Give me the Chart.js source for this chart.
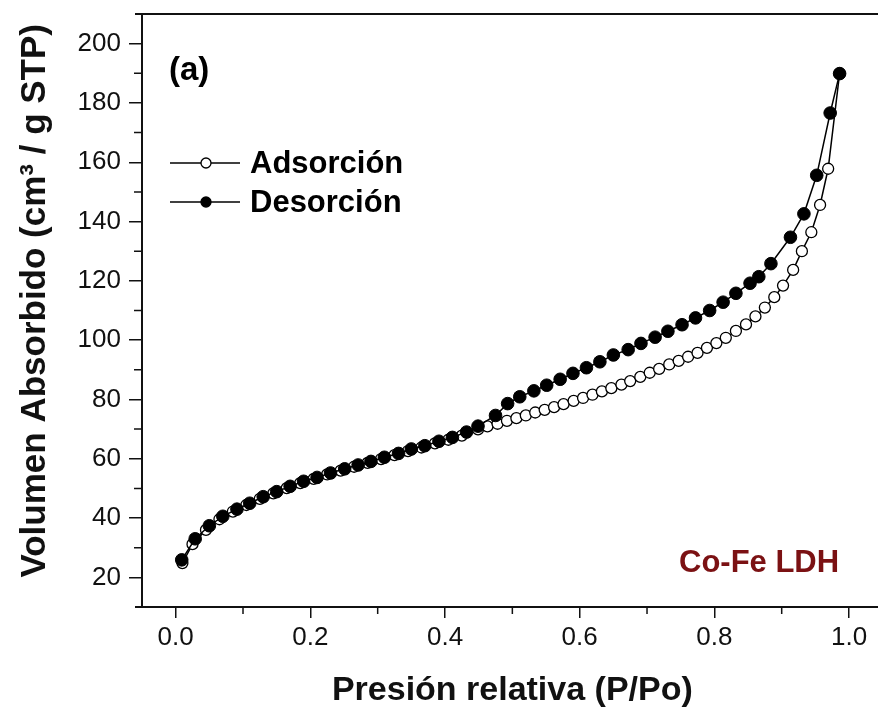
<!DOCTYPE html>
<html>
<head>
    <title>Isoterma Co-Fe LDH</title>
    <script src="https://cdn.jsdelivr.net/npm/chart.js@4.4.0/dist/chart.umd.min.js"></script>
    <style>
        body { margin: 0; overflow: hidden; background: #fff; }
    </style>
</head>
<body>
    <canvas id="myChart" width="890" height="708"></canvas>

    <script>
        // adsorcion (circulos abiertos)
        var adsX = [0.010, 0.025, 0.045, 0.065, 0.085, 0.105, 0.125, 0.145, 0.165, 0.185,
                    0.205, 0.225, 0.245, 0.265, 0.285, 0.305, 0.325, 0.345, 0.365, 0.385,
                    0.405, 0.425, 0.449, 0.463, 0.478, 0.492, 0.506, 0.520, 0.534, 0.548,
                    0.562, 0.576, 0.591, 0.605, 0.619, 0.633, 0.647, 0.662, 0.675, 0.690,
                    0.704, 0.718, 0.733, 0.747, 0.761, 0.775, 0.789, 0.803, 0.817, 0.832,
                    0.847, 0.861, 0.875, 0.889, 0.902, 0.917, 0.930, 0.944, 0.957, 0.969, 0.986];
        var adsY = [24.8, 31.2, 36.0, 39.6, 42.2, 44.4, 46.5, 48.3, 50.1, 51.8,
                    53.2, 54.7, 56.0, 57.3, 58.6, 59.9, 61.2, 62.6, 63.8, 65.2,
                    66.4, 67.8, 69.9, 70.9, 71.8, 72.8, 73.7, 74.6, 75.6, 76.5,
                    77.4, 78.4, 79.5, 80.5, 81.6, 82.7, 83.8, 85.0, 86.2, 87.6,
                    89.0, 90.3, 91.8, 93.0, 94.4, 95.7, 97.4, 99.0, 100.8, 103.1,
                    105.3, 108.0, 111.0, 114.5, 118.4, 123.7, 130.0, 136.4, 145.6, 157.8, 190.0];

        // desorcion (circulos llenos)
        var desX = [0.009, 0.029, 0.050, 0.070, 0.091, 0.110, 0.130, 0.150, 0.170, 0.190,
                    0.210, 0.230, 0.251, 0.271, 0.290, 0.310, 0.331, 0.350, 0.370, 0.391,
                    0.411, 0.432, 0.449, 0.475, 0.493, 0.511, 0.532, 0.551, 0.571, 0.590,
                    0.610, 0.630, 0.650, 0.672, 0.691, 0.712, 0.731, 0.752, 0.772, 0.793,
                    0.813, 0.832, 0.853, 0.866, 0.884, 0.913, 0.933, 0.952, 0.972, 0.986];
        var desY = [25.9, 33.0, 37.4, 40.6, 43.0, 45.0, 47.2, 48.9, 50.7, 52.4,
                    53.7, 55.2, 56.6, 57.9, 59.1, 60.5, 61.8, 63.3, 64.4, 65.9,
                    67.2, 69.0, 71.0, 74.6, 78.6, 80.9, 82.9, 84.8, 86.8, 88.8,
                    90.7, 92.7, 95.0, 96.8, 98.9, 101.0, 103.0, 105.2, 107.5, 110.0,
                    112.8, 115.8, 119.2, 121.4, 125.8, 134.7, 142.6, 155.6, 176.6, 189.9];

        var xTicks = [0.0, 0.2, 0.4, 0.6, 0.8, 1.0];
        var xMinor = [0.1, 0.3, 0.5, 0.7, 0.9];
        var yTicks = [20, 40, 60, 80, 100, 120, 140, 160, 180, 200];
        var yMinor = [30, 50, 70, 90, 110, 130, 150, 170, 190];

        var fontName = "'Liberation Sans', Arial, sans-serif";

        function toPoints(xs, ys) {
            return xs.map(function (x, i) { return { x: x, y: ys[i] }; });
        }

        // ticks menores, marco superior, leyenda y textos
        var extras = {
            id: 'extras',
            afterDraw: function (chart) {
                var ctx = chart.ctx;
                var area = chart.chartArea;
                var x = chart.scales.x;
                var y = chart.scales.y;

                ctx.save();
                ctx.strokeStyle = '#111';
                ctx.lineWidth = 1.5;
                ctx.beginPath();
                yMinor.forEach(function (v) {
                    var py = y.getPixelForValue(v);
                    ctx.moveTo(area.left - 8, py);
                    ctx.lineTo(area.left, py);
                });
                xMinor.forEach(function (v) {
                    var px = x.getPixelForValue(v);
                    ctx.moveTo(px, area.bottom);
                    ctx.lineTo(px, area.bottom + 7);
                });
                ctx.stroke();

                ctx.lineWidth = 2;
                ctx.beginPath();
                ctx.moveTo(area.left - 7, area.top);
                ctx.lineTo(area.right, area.top);
                ctx.moveTo(area.left - 7, area.bottom);
                ctx.lineTo(area.left, area.bottom);
                ctx.stroke();

                // leyenda
                var rows = [
                    { ds: chart.data.datasets[0], y: 163 },
                    { ds: chart.data.datasets[1], y: 202 }
                ];
                rows.forEach(function (r) {
                    ctx.strokeStyle = '#000';
                    ctx.lineWidth = 1.3;
                    ctx.beginPath();
                    ctx.moveTo(170, r.y);
                    ctx.lineTo(240, r.y);
                    ctx.stroke();
                    ctx.beginPath();
                    ctx.arc(206, r.y, 5, 0, Math.PI * 2);
                    ctx.fillStyle = r.ds.pointBackgroundColor;
                    ctx.fill();
                    ctx.stroke();
                    ctx.fillStyle = '#000';
                    ctx.font = 'bold 31px ' + fontName;
                    ctx.textAlign = 'left';
                    ctx.textBaseline = 'middle';
                    ctx.fillText(r.ds.label, 250, r.y + 1);
                });

                ctx.font = 'bold 33px ' + fontName;
                ctx.fillText('(a)', 169, 71);

                ctx.fillStyle = '#7b1113';
                ctx.font = 'bold 31px ' + fontName;
                ctx.fillText('Co-Fe LDH', 679, 563);
                ctx.restore();
            }
        };

        var ctx = document.getElementById('myChart').getContext('2d');
        var chart = new Chart(ctx, {
            type: 'scatter',
            data: {
                datasets: [{
                    label: 'Adsorción',
                    data: toPoints(adsX, adsY),
                    showLine: true,
                    borderColor: '#000',
                    borderWidth: 1.5,
                    pointRadius: 5.5,
                    pointBackgroundColor: '#fff',
                    pointBorderColor: '#000',
                    pointBorderWidth: 1.3,
                    order: 1
                }, {
                    label: 'Desorción',
                    data: toPoints(desX, desY),
                    showLine: true,
                    borderColor: '#000',
                    borderWidth: 1.5,
                    pointRadius: 6.3,
                    pointBackgroundColor: '#000',
                    pointBorderColor: '#000',
                    pointBorderWidth: 1,
                    order: 0
                }]
            },
            options: {
                responsive: false,
                animation: false,
                devicePixelRatio: 1,
                layout: { padding: { top: 14, right: 0, left: 0, bottom: 0 } },
                plugins: {
                    legend: { display: false },
                    tooltip: { enabled: false }
                },
                scales: {
                    x: {
                        type: 'linear',
                        min: -0.05,
                        max: 1.05,
                        afterBuildTicks: function (s) {
                            s.ticks = xTicks.map(function (v) { return { value: v }; });
                        },
                        afterFit: function (s) {
                            s.height = 101;
                            s.paddingLeft = 0;
                            s.paddingRight = 0;
                        },
                        ticks: {
                            callback: function (v) { return v.toFixed(1); },
                            font: { family: fontName, size: 26 },
                            color: '#111',
                            padding: 4,
                            maxRotation: 0,
                            autoSkip: false
                        },
                        grid: {
                            drawOnChartArea: false,
                            tickLength: 11,
                            color: '#111',
                            lineWidth: 1.5
                        },
                        border: { color: '#111', width: 2 },
                        title: {
                            display: true,
                            text: 'Presión relativa (P/Po)',
                            color: '#111',
                            font: { family: fontName, size: 34, weight: 'bold', lineHeight: 1 },
                            padding: { top: 0, bottom: 0 }
                        }
                    },
                    y: {
                        min: 10,
                        max: 210,
                        afterBuildTicks: function (s) {
                            s.ticks = yTicks.map(function (v) { return { value: v }; });
                        },
                        afterFit: function (s) {
                            s.width = 142;
                            s.paddingTop = 0;
                            s.paddingBottom = 0;
                        },
                        ticks: {
                            callback: function (v) { return String(v); },
                            font: { family: fontName, size: 26 },
                            color: '#111',
                            padding: 8
                        },
                        grid: {
                            drawOnChartArea: false,
                            tickLength: 13,
                            color: '#111',
                            lineWidth: 1.5
                        },
                        border: { color: '#111', width: 2 },
                        title: {
                            display: true,
                            text: '  Volumen Absorbido (cm³ / g STP)',
                            color: '#111',
                            font: { family: fontName, size: 35, weight: 'bold', lineHeight: 1 },
                            padding: { top: 18, bottom: 0 }
                        }
                    }
                }
            },
            plugins: [extras]
        });
    </script>
</body>
</html>
